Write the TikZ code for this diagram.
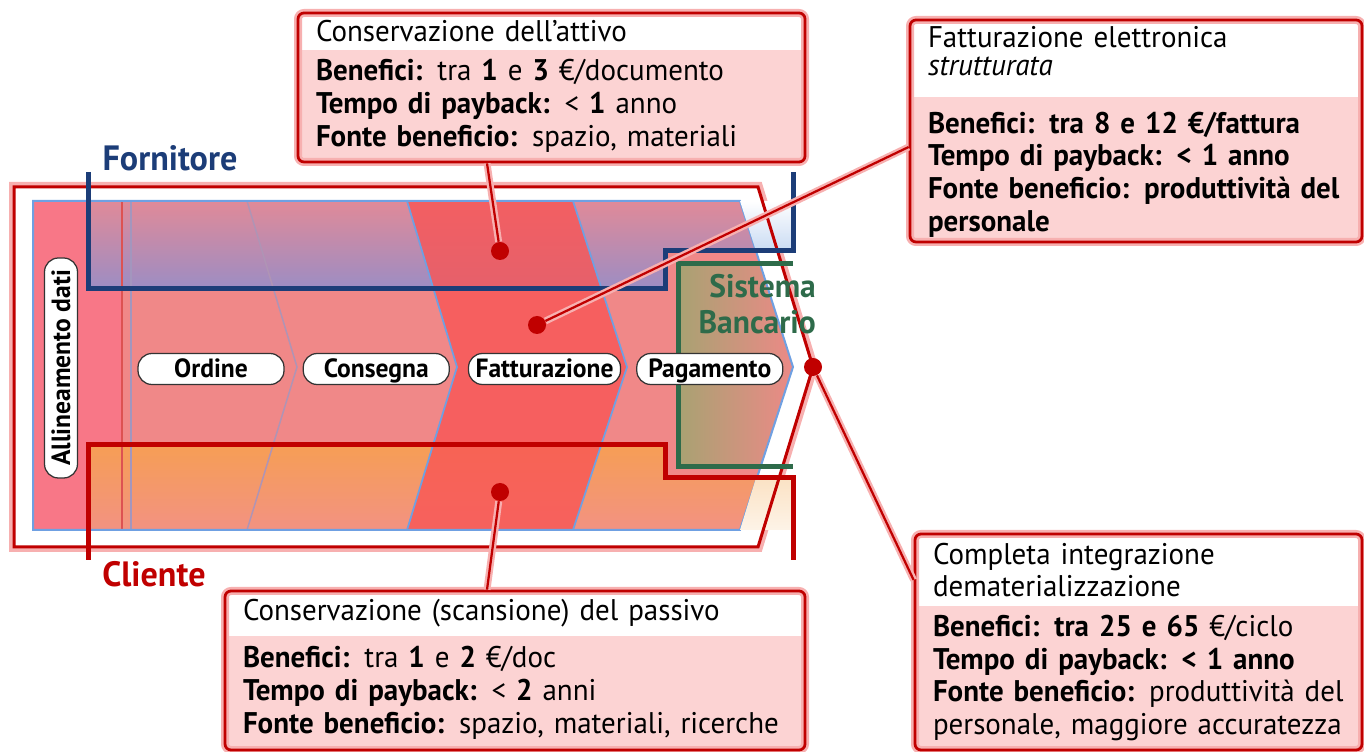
\documentclass[tikz,border=0pt]{standalone}
\usepackage{fontspec}
\setmainfont{PT Sans}[FakeStretch=0.97]
\usetikzlibrary{positioning,fit}
\definecolor{framered}{HTML}{C00000}
\definecolor{haloPink}{HTML}{F7B0B0}
\definecolor{bodypink}{HTML}{FCD3D3}
\definecolor{stagefill}{HTML}{F08888}
\definecolor{leftstrip}{HTML}{F87787}
\definecolor{fattfill}{HTML}{F85555}
\definecolor{suppblue}{HTML}{1C3D78}
\definecolor{supptop}{HTML}{E08A98}
\definecolor{suppfill}{HTML}{9C8DC4}
\definecolor{clientorange}{HTML}{F69E55}
\definecolor{clientlow}{HTML}{F29282}
\definecolor{bankgreen}{HTML}{2E6B4A}
\definecolor{bankfill}{HTML}{A8A272}
\definecolor{edgeblue}{HTML}{6FA0E2}
\definecolor{paleblue}{HTML}{C9DBF3}
\definecolor{cream}{HTML}{FBE2C4}

\tikzset{
  boxhead/.style={fill=white,inner xsep=3.6mm,inner ysep=0pt,outer sep=0pt,align=left,anchor=north west},
  boxbody/.style={fill=bodypink,inner xsep=3.6mm,inner ysep=0pt,outer sep=0pt,align=left},
  boxframe/.style={draw=framered,line width=0.55mm,rounded corners=1.2mm,inner sep=0pt,
    preaction={draw=haloPink,line width=1.6mm}},
  stagelabel/.style={draw=black!80,fill=white,rounded corners=2.8mm,line width=0.25mm,
    font=\bfseries\fontsize{15}{17}\selectfont,minimum width=29.2mm,minimum height=6.2mm,
    text height=3.7mm,text depth=0.1mm,inner sep=1pt},
  hotspot/.style={circle,fill=framered,minimum size=3.6mm,inner sep=0pt},
  link/.style={draw=framered,line width=0.45mm,preaction={draw=haloPink,line width=1.4mm}},
  lane/.style={line width=1mm},
  lanename/.style={font=\bfseries\fontsize{20}{22}\selectfont}
}

\begin{document}
\begin{tikzpicture}[x=0.2mm,y=-0.2mm,font=\fontsize{17}{18.6}\selectfont]
\useasboundingbox (0,0) rectangle (1364,752);

% frame
\fill[white,preaction={draw=haloPink,line width=2mm}] (14,187) -- (758,187) -- (813,367) -- (758,547) -- (14,547) -- cycle;

% stages
\begin{scope}
  \clip (33,201) -- (740,201) -- (793,367) -- (740,530) -- (33,530) -- cycle;
  \fill[stagefill] (20,190) rectangle (800,540);
  \fill[leftstrip] (33,201) rectangle (122,530);
  \shade[top color=supptop,bottom color=suppfill] (88,201) -- (88,289) -- (665,289) -- (665,251) -- (800,251) -- (800,201) -- cycle;
  \shade[top color=clientorange,bottom color=clientlow] (88,445) -- (665,445) -- (665,478) -- (800,478) -- (800,530) -- (88,530) -- cycle;
  \shade[left color=bankfill,right color=stagefill] (678,264) rectangle (800,467);
  \fill[fattfill,opacity=0.8] (407,201) -- (573,201) -- (627,367) -- (573,530) -- (407,530) -- (457,367) -- cycle;
\end{scope}
\draw[framered!40!stagefill,line width=0.3mm] (122,201) -- (122,530);
\draw[edgeblue!60!stagefill,line width=0.3mm] (131,201) -- (131,530);
\draw[edgeblue!50!stagefill,line width=0.3mm] (247,201) -- (297,367) -- (247,530);
\draw[edgeblue,line width=0.35mm] (407,201) -- (457,367) -- (407,530);
\draw[edgeblue,line width=0.35mm] (573,201) -- (627,367) -- (573,530);
\draw[edgeblue,line width=0.4mm] (33,201) -- (740,201) -- (793,367) -- (740,530) -- (33,530) -- cycle;
\shade[top color=white,bottom color=paleblue] (740,201) -- (793,201) -- (793,251) -- (756,251) -- cycle;
\shade[top color=cream,bottom color=cream!40] (756,478) -- (793,478) -- (793,530) -- (740,530) -- cycle;
\draw[framered,line width=0.6mm] (14,187) -- (758,187) -- (813,367) -- (758,547) -- (14,547) -- cycle;

% lanes
\draw[lane,suppblue] (88,172) -- (88,289) -- (665,289) -- (665,251) -- (793,251) -- (793,172);
\draw[lane,framered] (88,560) -- (88,445) -- (665,445) -- (665,478) -- (793,478) -- (793,560);
\draw[lane,bankgreen] (793,264) -- (678,264) -- (678,467) -- (793,467);
\node (fornitore) [lanename,text=suppblue] at (170,158) {Fornitore};
\node (cliente) [lanename,text=framered] at (154,574) {Cliente};
\node (banca) [font=\bfseries\fontsize{18.5}{20.5}\selectfont,text=bankgreen,align=right,anchor=east] at (822,304) {Sistema\\Bancario};

% process steps
\node (allinea) [stagelabel,rotate=90,minimum width=44mm,minimum height=6.6mm] at (61,368) {Allineamento dati};
\node (ordine) [stagelabel] at (211,369) {Ordine};
\node (consegna) [stagelabel,right=3.6mm of ordine] {Consegna};
\node (fatturazione) [stagelabel,right=3.6mm of consegna,minimum width=30.4mm] {Fatturazione};
\node (pagamento) [stagelabel,right=3mm of fatturazione] {Pagamento};

% benefit boxes
\node (attivoHead) [boxhead,text width=94.2mm,minimum height=7.4mm] at (298,13) {Conservazione dell’attivo};
\node (attivoBody) [boxbody,text width=94.2mm,minimum height=22.4mm,below=0pt of attivoHead]
  {\textbf{Benefici:} tra \textbf{1} e \textbf{3} €/documento\\
   \textbf{Tempo di payback:} < \textbf{1} anno\\
   \textbf{Fonte beneficio:} spazio, materiali};
\node (attivo) [boxframe,fit=(attivoHead)(attivoBody)] {};

\node (fatturaHead) [boxhead,text width=83.2mm,minimum height=15.4mm,text depth=8.5mm,
  font=\fontsize{17}{15.9}\selectfont] at (910,20) {Fatturazione elettronica\\\textit{strutturata}};
\node (fatturaBody) [boxbody,text width=83.2mm,minimum height=29mm,text depth=18.8mm,below=0pt of fatturaHead]
  {\textbf{Benefici: tra 8 e 12 €/fattura}\\
   \textbf{Tempo di payback: < 1 anno}\\
   \textbf{Fonte beneficio: produttività del}\\
   \textbf{personale}};
\node (fattura) [boxframe,fit=(fatturaHead)(fatturaBody)] {};

\node (passivoHead) [boxhead,text width=108.8mm,minimum height=9mm] at (225,591) {Conservazione (scansione) del passivo};
\node (passivoBody) [boxbody,text width=108.8mm,minimum height=22.8mm,below=0pt of passivoHead]
  {\textbf{Benefici:} tra \textbf{1} e \textbf{2} €/doc\\
   \textbf{Tempo di payback:} < \textbf{2} anni\\
   \textbf{Fonte beneficio:} spazio, materiali, ricerche};
\node (passivo) [boxframe,fit=(passivoHead)(passivoBody)] {};

\node (integraHead) [boxhead,text width=82.2mm,minimum height=14.4mm] at (915,534) {Completa integrazione\\dematerializzazione};
\node (integraBody) [boxbody,text width=82.2mm,minimum height=28.8mm,below=0pt of integraHead]
  {\textbf{Benefici: tra 25 e 65} €/ciclo\\
   \textbf{Tempo di payback: < 1 anno}\\
   \textbf{Fonte beneficio:} produttività del\\
   personale, maggiore accuratezza};
\node (integra) [boxframe,fit=(integraHead)(integraBody)] {};

% hot spots
\node (dotAttivo) [hotspot] at (500,251) {};
\node (dotFattura) [hotspot] at (537,325) {};
\node (dotPassivo) [hotspot] at (500,492) {};
\node (dotIntegra) [hotspot] at (813,367) {};
\draw[link] (dotAttivo) -- ([xshift=-12.9mm]attivo.south);
\draw[link] (dotFattura) -- ([yshift=-3.2mm]fattura.west);
\draw[link] (dotPassivo) -- ([xshift=-5.6mm]passivo.north);
\draw[link] (dotIntegra) -- ([yshift=12.4mm]integra.west);
\end{tikzpicture}
\end{document}
